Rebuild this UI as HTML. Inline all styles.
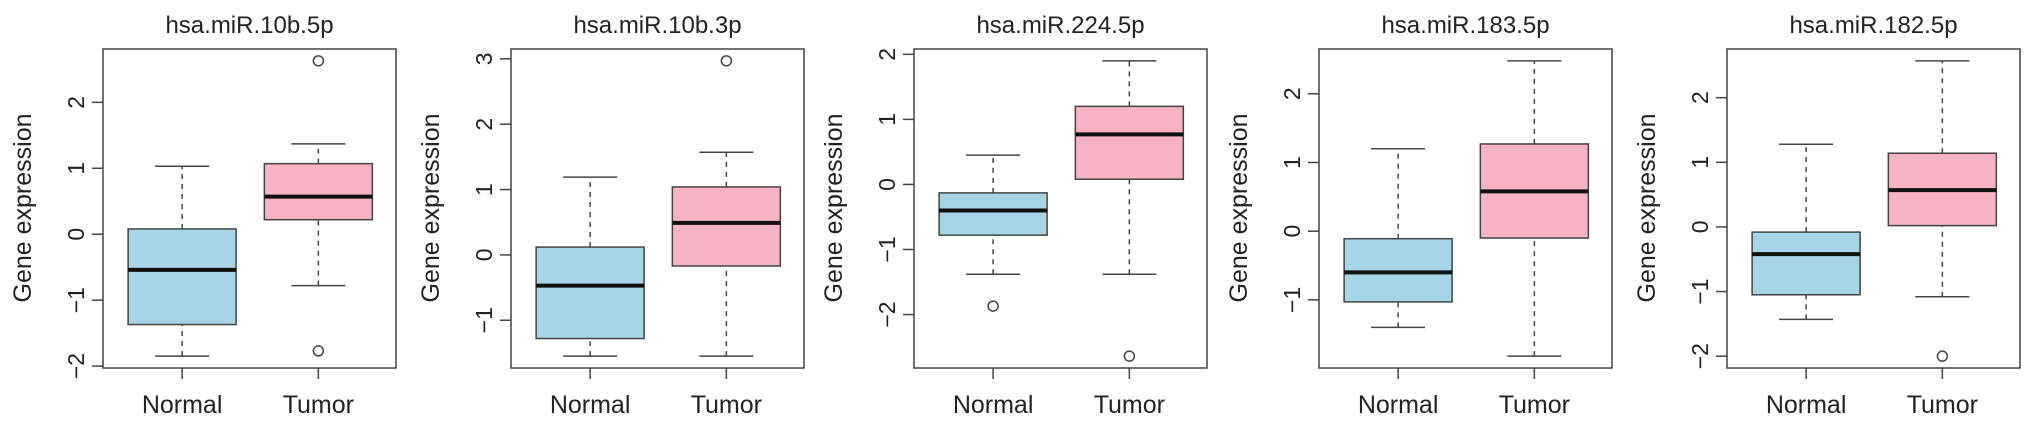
<!DOCTYPE html>
<html><head><meta charset="utf-8">
<style>
html,body{margin:0;padding:0;background:#fff;}
svg{display:block;font-family:"Liberation Sans",Arial,sans-serif;}
</style></head>
<body>
<svg id="chart" width="2032" height="427" viewBox="0 0 2032 427"></svg>
<script>
const titles = ["hsa.miR.10b.5p","hsa.miR.10b.3p","hsa.miR.224.5p","hsa.miR.183.5p","hsa.miR.182.5p"];
const categories = ["Normal","Tumor"];
// [lowerWhisker, q1, median, q3, upperWhisker] per panel
const normalStats = [
  [-1.85,-1.37,-0.54,0.08,1.03],
  [-1.55,-1.28,-0.47,0.12,1.19],
  [-1.38,-0.78,-0.40,-0.13,0.45],
  [-1.40,-1.03,-0.60,-0.11,1.20],
  [-1.43,-1.05,-0.42,-0.08,1.28]
];
const tumorStats = [
  [-0.78,0.22,0.57,1.07,1.37],
  [-1.55,-0.17,0.49,1.04,1.57],
  [-1.38,0.08,0.77,1.20,1.90],
  [-1.82,-0.10,0.58,1.27,2.48],
  [-1.08,0.02,0.57,1.14,2.57]
];
const normalOutliers = [[],[],[-1.87],[],[]];
const tumorOutliers = [[2.63,-1.77],[2.97],[-2.64],[],[-2.0]];

const NS="http://www.w3.org/2000/svg";
const svg=document.getElementById('chart');
function mk(tag,attrs,parent){const e=document.createElementNS(NS,tag);for(const k in attrs)e.setAttribute(k,attrs[k]);(parent||svg).appendChild(e);return e;}
const frameLefts=[103,511,914,1319,1727];
const FW=293, FT=49, FB=368;
const fills=["#a5d5e6","#f7b2c3"];
const stroke="#444";

titles.forEach((title,p)=>{
  const L=frameLefts[p];
  const g=mk('g',{});
  
  
  const all=[...normalStats[p],...tumorStats[p],...normalOutliers[p],...tumorOutliers[p]];
  let lo=Math.min(...all),hi=Math.max(...all);
  const pad=(hi-lo)*0.04; lo-=pad; hi+=pad;
  const y=v=>FB-(v-lo)/(hi-lo)*(FB-FT);
  const xc=i=>L+FW*(i===0?0.27:0.735);
  const t=mk('text',{x:L+FW/2,y:33,'text-anchor':'middle','font-size':'24',fill:'#222'},g);
  t.textContent=title;
  
  
  const yl=mk('text',{x:0,y:0,transform:`translate(${L-72},208) rotate(-90)`,'text-anchor':'middle','font-size':'25',fill:'#222'},g);
  yl.textContent="Gene expression";
  
  
  for(let v=Math.ceil(lo+0.01);v<=Math.floor(hi-0.01);v++){
    const yy=y(v);
    const tk=mk('line',{x1:L-11,x2:L,y1:yy,y2:yy,stroke:stroke,'stroke-width':1.5},g);
    
    
    const tl=mk('text',{x:0,y:0,transform:`translate(${L-19},${yy}) rotate(-90)`,'text-anchor':'middle','font-size':'23',fill:'#222'},g);
    tl.textContent=v<0?'\u2212'+(-v):String(v);
    
    
  }
  const stats=[normalStats[p],tumorStats[p]];
  const outs=[normalOutliers[p],tumorOutliers[p]];
  stats.forEach((s,i)=>{
    const cx=xc(i);
    const bg=mk('g',{},g);
    
    
    mk('line',{x1:cx,x2:cx,y1:y(s[0]),y2:y(s[1]),stroke:stroke,'stroke-width':1.5,'stroke-dasharray':'5,5'},bg);
    mk('line',{x1:cx,x2:cx,y1:y(s[3]),y2:y(s[4]),stroke:stroke,'stroke-width':1.5,'stroke-dasharray':'5,5'},bg);
    mk('line',{x1:cx-27,x2:cx+27,y1:y(s[0]),y2:y(s[0]),stroke:stroke,'stroke-width':1.5},bg);
    mk('line',{x1:cx-27,x2:cx+27,y1:y(s[4]),y2:y(s[4]),stroke:stroke,'stroke-width':1.5},bg);
    mk('rect',{x:cx-54,y:y(s[3]),width:108,height:y(s[1])-y(s[3]),fill:fills[i],stroke:stroke,'stroke-width':1.5},bg);
    mk('line',{x1:cx-54,x2:cx+54,y1:y(s[2]),y2:y(s[2]),stroke:'#111','stroke-width':4},bg);
    outs[i].forEach(o=>{
      const c=mk('circle',{cx:cx,cy:y(o),r:5,fill:'none',stroke:stroke,'stroke-width':1.5},g);
      
      
    });
    const xt=mk('line',{x1:cx,x2:cx,y1:FB,y2:FB+11,stroke:stroke,'stroke-width':1.5},g);
    
    
    const xl=mk('text',{x:cx,y:413,'text-anchor':'middle','font-size':'25',fill:'#222'},g);
    xl.textContent=categories[i];
    
    
  });
  const fr=mk('rect',{x:L,y:FT,width:FW,height:FB-FT,fill:'none',stroke:stroke,'stroke-width':1.5},g);
  
  
});
</script>
</body></html>
